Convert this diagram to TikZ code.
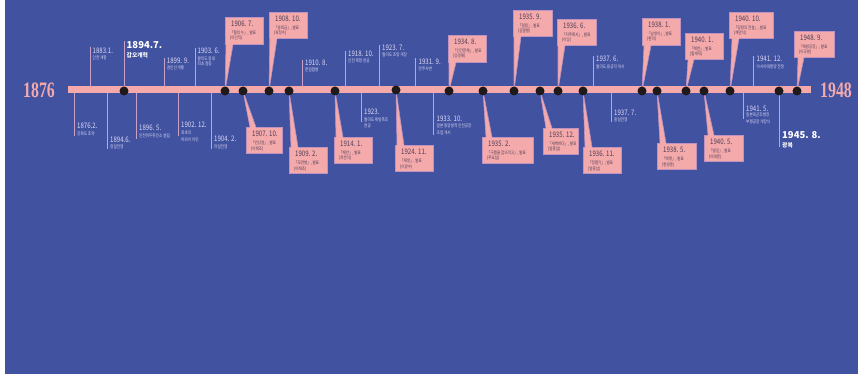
\documentclass[tikz,border=0pt]{standalone}
\usepackage{fontspec}
\newfontfamily\kr{Noto Sans CJK KR}
\newfontfamily\krn[FakeStretch=0.8]{Noto Sans CJK KR}
\newfontfamily\yearf[FakeStretch=0.72]{Liberation Serif}
\usetikzlibrary{calc}
\definecolor{bgblue}{HTML}{4152A0}
\definecolor{pinkc}{HTML}{F4A9AB}
\definecolor{lblc}{HTML}{DCD8F5}
\definecolor{tickc}{HTML}{C8A0C8}
\definecolor{boxtxt}{HTML}{4E3F55}
\definecolor{boxedge}{HTML}{BE93BF}
\definecolor{dotc}{HTML}{1E1A1C}
\tikzset{
 pdate/.style={font=\krn\fontsize{7.6}{8}\selectfont,text=lblc,inner sep=0pt,anchor=base west},
 psub/.style={font=\krn\fontsize{4.5}{5}\selectfont,text=lblc,inner sep=0pt,anchor=base west},
 bigdate/.style={font=\kr\bfseries\fontsize{9.5}{10}\selectfont,text=white,inner sep=0pt,anchor=base west},
 bigsub/.style={font=\kr\bfseries\fontsize{5.8}{6}\selectfont,text=white,inner sep=0pt,anchor=base west},
 bdate/.style={font=\krn\fontsize{7.6}{8}\selectfont,text=boxtxt,inner sep=0pt,anchor=base west},
 bsub/.style={font=\krn\fontsize{4.4}{5}\selectfont,text=boxtxt,inner sep=0pt,anchor=base west},
 evbox/.style={fill=pinkc,draw=boxedge,line width=0.7pt,inner sep=0pt,anchor=north west},
 tickline/.style={draw=tickc,line width=0.9pt},
 evdot/.style={circle,fill=dotc,inner sep=0pt,minimum size=9pt},
 wedgeline/.style={draw=boxedge,line width=0.6pt},
 yearlbl/.style={font=\yearf\bfseries\fontsize{22}{24}\selectfont,text=pinkc,inner sep=0pt,anchor=base west},
 barstyle/.style={fill=pinkc,inner sep=0pt,anchor=north west},
}
\newcommand{\evb}[8]{%
 \node[evbox,minimum width=#4pt,minimum height=#5pt] (#1) at (#2,#3) {};
 \node[bdate] (#1d) at ($(#1.north west)+(6,9.8)$) {#6};
 \node[bsub] (#1t) at ($(#1.north west)+(5,17.2)$) {#7};
 \node[bsub] (#1a) at ($(#1.north west)+(5,23)$) {#8};
}
\newcommand{\wdown}[4]{%
 \fill[pinkc] (#1) -- ($(#2.south west)+(#3,-0.8)$) -- ($(#2.south west)+(#4,-0.8)$) -- cycle;
 \draw[wedgeline] ($(#2.south west)+(#3,0)$) -- (#1) -- ($(#2.south west)+(#4,0)$);
}
\newcommand{\wup}[4]{%
 \fill[pinkc] (#1) -- ($(#2.north west)+(#3,0.8)$) -- ($(#2.north west)+(#4,0.8)$) -- cycle;
 \draw[wedgeline] ($(#2.north west)+(#3,0)$) -- (#1) -- ($(#2.north west)+(#4,0)$);
}
\newcommand{\tk}[3]{%
 \coordinate (#1s) at (#2,89.5); \coordinate (#1e) at (#2,#3); \draw[tickline] (#1s) -- (#1e);
}
\begin{document}
\begin{tikzpicture}[x=1pt,y=-1pt]
\useasboundingbox (0,0) rectangle (858,374);
\fill[white] (0,0) rectangle (858,374);
\fill[bgblue] (5,0) rectangle (858,374);

% dot positions
\coordinate (p1894) at (124,91);
\coordinate (p1906) at (225,91);
\coordinate (p1907) at (243,91);
\coordinate (p1908) at (269,91);
\coordinate (p1909) at (289,91);
\coordinate (p1914) at (335,91);
\coordinate (p1924) at (396,90);
\coordinate (p1934) at (449,91);
\coordinate (p19352) at (483,91);
\coordinate (p19359) at (514,91);
\coordinate (p193512) at (540,91);
\coordinate (p19366) at (558,91);
\coordinate (p193611) at (583,91);
\coordinate (p19381) at (642,91);
\coordinate (p19385) at (657,91);
\coordinate (p19401) at (686,91);
\coordinate (p19405) at (704,91);
\coordinate (p194010) at (730,91);
\coordinate (p1945) at (779,91);
\coordinate (p1948) at (797,91);

% ticks above
\tk{k1883}{90}{47}
\coordinate (k1894e) at (124,41.5);
\draw[tickline] (p1894) -- (k1894e);
\tk{k1899}{164}{58}
\tk{k1903}{195}{48}
\tk{k1910}{302.3}{60}
\tk{k1918}{345.3}{51}
\tk{k1923}{379.3}{45}
\tk{k1931}{415.7}{58.3}
\tk{kb19376}{593}{55.7}
\tk{kb194112}{753.7}{56}
% ticks below
\tk{k1876}{74}{136}
\tk{k18946}{107}{149}
\tk{k1896}{136}{139}
\tk{k1902}{178}{136}
\tk{k1904}{211}{149}
\tk{kb1923}{361}{122}
\tk{k1933}{433.5}{135}
\tk{kb19377}{611}{122}
\tk{kb19415}{743}{119.5}
\coordinate (k1945e) at (779,147.5);
\draw[tickline] (p1945) -- (k1945e);

% axis bar
\node[barstyle,minimum width=743pt,minimum height=7pt] (bar) at (68,86) {};

% boxes above
\evb{b1906}{225}{17}{38}{27}{1906. 7.}{「혈의 누」, 발표}{(이인직)}
\evb{b1908}{269}{12}{38}{26}{1908. 10.}{「송뢰금」, 발표}{(육정수)}
\evb{b1934}{448}{35}{38}{27}{1934. 8.}{「인간문제」, 발표}{(강경애)}
\evb{b19359}{513}{10}{39}{26}{1935. 9.}{「밀림」, 발표}{(김말봉)}
\evb{b19366}{557}{19}{39}{26}{1936. 6.}{「지주회시」, 발표}{(이상)}
\evb{b19381}{642}{18}{38}{27}{1938. 1.}{「남생이」, 발표}{(현덕)}
\evb{b19401}{685}{33}{38}{26}{1940. 1.}{「해연」, 발표}{(함세덕)}
\evb{b194010}{729}{12}{44}{26}{1940. 10.}{「당랑의 전설」, 발표}{(채만식)}
\evb{b1948}{794}{31}{40}{26}{1948. 9.}{「해방공장」, 발표}{(이규원)}
% boxes below
\evb{b1907}{246}{127}{36}{26}{1907. 10.}{「빈상설」, 발표}{(이해조)}
\evb{b1909}{289}{147}{38}{26}{1909. 2.}{「모란병」, 발표}{(이해조)}
\evb{b1914}{334}{137}{38}{26}{1914. 1.}{「해안」, 발표}{(최찬식)}
\evb{b1924}{395}{145}{38}{26}{1924. 11.}{「재생」, 발표}{(이광수)}
\evb{b19352}{482}{137}{51}{26}{1935. 2.}{「구름을 잡으려고」, 발표}{(주요섭)}
\evb{b193512}{543}{128}{35}{26}{1935. 12.}{「새벽바다」, 발표}{(엄흥섭)}
\evb{b193611}{583}{147}{38}{26}{1936. 11.}{「정열기」, 발표}{(엄흥섭)}
\evb{b19385}{657}{143}{39}{26}{1938. 5.}{「박명」, 발표}{(현경준)}
\evb{b19405}{704}{135}{39}{26}{1940. 5.}{「밤길」, 발표}{(이태준)}

% pointers
\wdown{p1906}{b1906}{1}{8}
\wdown{p1908}{b1908}{0.8}{8}
\wdown{p1934}{b1934}{1}{8}
\wdown{p19359}{b19359}{1}{8}
\wdown{p19366}{b19366}{1}{8}
\wdown{p19381}{b19381}{2}{9}
\wdown{p19401}{b19401}{3}{9}
\wdown{p194010}{b194010}{3}{10}
\wdown{p1948}{b1948}{4}{10}
\wup{p1907}{b1907}{4}{10}
\wup{p1909}{b1909}{2}{9}
\wup{p1914}{b1914}{2}{9}
\wup{p1924}{b1924}{2}{9}
\wup{p19352}{b19352}{4}{10}
\wup{p193512}{b193512}{3}{9}
\wup{p193611}{b193611}{2}{9}
\wup{p19385}{b19385}{3}{9}
\wup{p19405}{b19405}{4}{10}

% dots
\foreach \p in {p1894,p1906,p1907,p1908,p1909,p1914,p1924,p1934,p19352,p19359,p193512,p19366,p193611,p19381,p19385,p19401,p19405,p194010,p1945,p1948}
  \node[evdot] (d\p) at (\p) {};

% labels above
\node[pdate] (l1883d) at (92.5,53.5) {1883.1.};
\node[psub] (l1883s) at (92.5,59.8) {인천 개항};
\node[bigdate] (l1894d) at (126.5,48.5) {1894.7.};
\node[bigsub] (l1894s) at (126.5,57.5) {갑오개혁};
\node[pdate] (l1899d) at (166.7,63.5) {1899. 9.};
\node[psub] (l1899s) at (166.7,69.6) {경인선 개통};
\node[pdate] (l1903d) at (197.5,54) {1903. 6.};
\node[psub] (l1903s) at (197.5,60.2) {팔미도 등대};
\node[psub] (l1903t) at (197.5,66) {최초 점등};
\node[pdate] (l1910d) at (305,65.2) {1910. 8.};
\node[psub] (l1910s) at (305,71.5) {한일합병};
\node[pdate] (l1918d) at (348,56.7) {1918. 10.};
\node[psub] (l1918s) at (348,63) {인천 축항 완공};
\node[pdate] (l1923d) at (382,50.7) {1923. 7.};
\node[psub] (l1923s) at (382,56.8) {월미도 조탕 개장};
\node[pdate] (l1931d) at (418.5,64.5) {1931. 9.};
\node[psub] (l1931s) at (418.5,70.8) {만주사변};
\node[pdate] (l19376d) at (596,62) {1937. 6.};
\node[psub] (l19376s) at (596,68.3) {월미도 용궁각 개시};
\node[pdate] (l194112d) at (756.5,62) {1941. 12.};
\node[psub] (l194112s) at (756.5,68.3) {아시아태평양 전쟁};

% labels below
\node[pdate] (l1876d) at (77,129) {1876.2.};
\node[psub] (l1876s) at (77,135.3) {강화도 조약};
\node[pdate] (l18946d) at (110,142.5) {1894.6.};
\node[psub] (l18946s) at (110,148.7) {청일전쟁};
\node[pdate] (l1896d) at (139,131) {1896. 5.};
\node[psub] (l1896s) at (139,137.3) {인천미두취인소 설립};
\node[pdate] (l1902d) at (181,128) {1902. 12.};
\node[psub] (l1902s) at (181,134.5) {최초의};
\node[psub] (l1902t) at (181,141.5) {하와이 이민};
\node[pdate] (l1904d) at (214,142) {1904. 2.};
\node[psub] (l1904s) at (214,148.3) {러일전쟁};
\node[pdate] (l19231d) at (364,115) {1923.};
\node[psub] (l19231s) at (364,121.3) {월미도 제방축조};
\node[psub] (l19231t) at (364,127.6) {완공};
\node[pdate] (l1933d) at (436.5,121.5) {1933. 10.};
\node[psub] (l1933s) at (436.5,128) {일본 동양방적 인천공장};
\node[psub] (l1933t) at (436.5,134.5) {조업 개시};
\node[pdate] (l19377d) at (614,116) {1937. 7.};
\node[psub] (l19377s) at (614,121.7) {중일전쟁};
\node[pdate] (l19415d) at (746,111.7) {1941. 5.};
\node[psub] (l19415s) at (746,117) {일본육군조병창};
\node[psub] (l19415t) at (746,123.3) {부평공장 개창식};
\node[bigdate] (l1945d) at (782,139) {1945. 8.};
\node[bigsub] (l1945s) at (782,147.5) {광복};

% end years
\node[yearlbl] (y1876) at (23,98) {1876};
\node[yearlbl] (y1948) at (820,98) {1948};
\end{tikzpicture}
\end{document}
